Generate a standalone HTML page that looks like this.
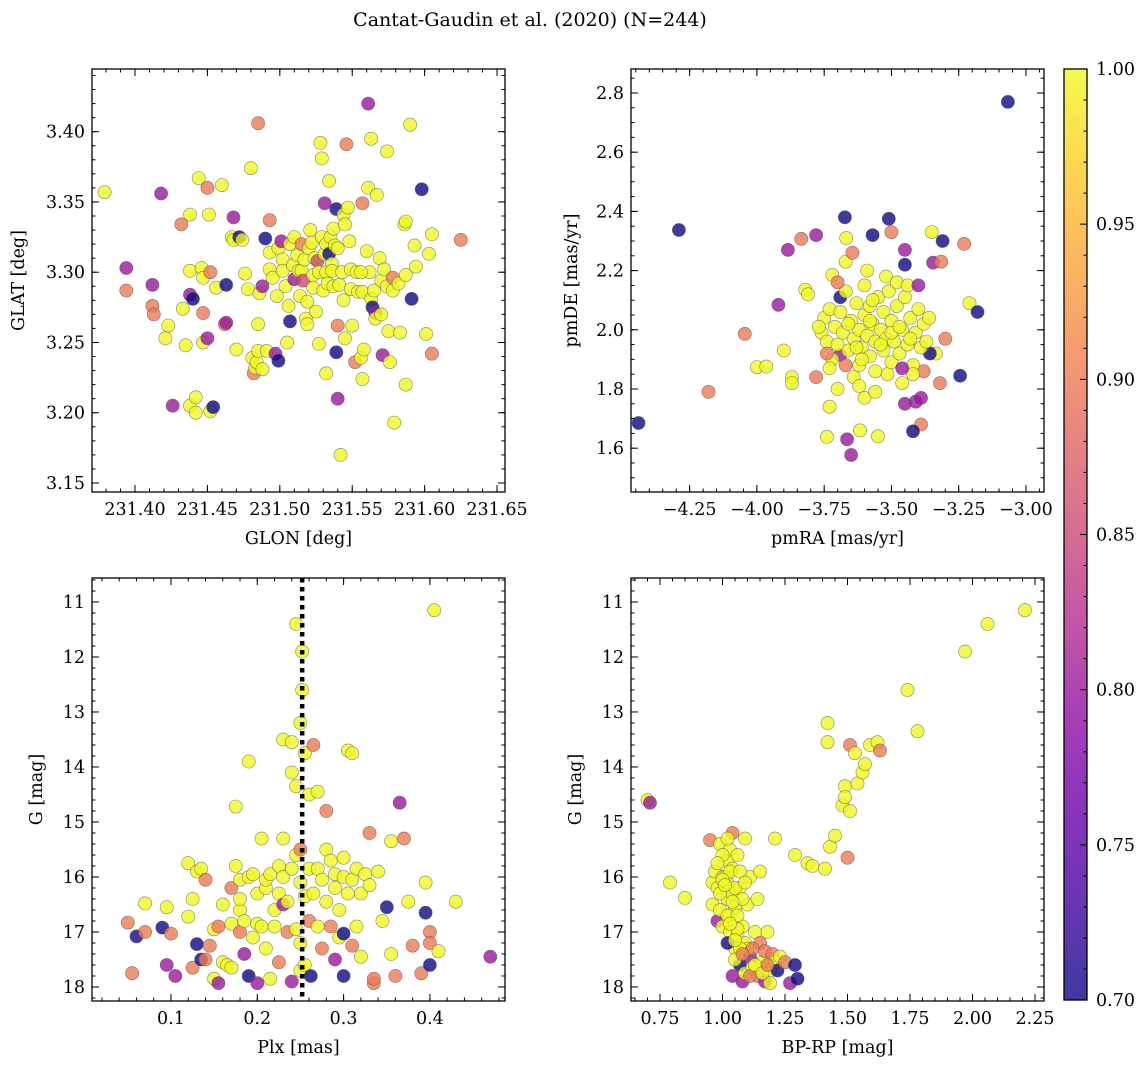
<!DOCTYPE html>
<html><head><meta charset="utf-8"><title>Cantat-Gaudin et al. (2020)</title>
<style>
html,body{margin:0;padding:0;background:#fff;}
svg{display:block;font-family:"DejaVu Serif","Liberation Serif",serif;}
</style></head>
<body>
<svg id="fig" width="1148" height="1068" viewBox="0 0 1148 1068" xmlns="http://www.w3.org/2000/svg">
<defs>
<linearGradient id="cbgrad" x1="0" y1="1" x2="0" y2="0">
<stop offset="0" stop-color="#0d0887" stop-opacity="0.8"/>
<stop offset="0.1" stop-color="#41049d" stop-opacity="0.8"/>
<stop offset="0.2" stop-color="#6a00a8" stop-opacity="0.8"/>
<stop offset="0.3" stop-color="#8f0da4" stop-opacity="0.8"/>
<stop offset="0.4" stop-color="#b12a90" stop-opacity="0.8"/>
<stop offset="0.5" stop-color="#cc4778" stop-opacity="0.8"/>
<stop offset="0.6" stop-color="#e16462" stop-opacity="0.8"/>
<stop offset="0.7" stop-color="#f2844b" stop-opacity="0.8"/>
<stop offset="0.8" stop-color="#fca636" stop-opacity="0.8"/>
<stop offset="0.9" stop-color="#fcce25" stop-opacity="0.8"/>
<stop offset="1" stop-color="#f0f921" stop-opacity="0.8"/>
</linearGradient>
</defs>
<text x="530" y="26" font-size="19" text-anchor="middle">Cantat-Gaudin et al. (2020) (N=244)</text>
</svg>
<script>
// ---------- Panel 1: GLON vs GLAT ----------
const glonVals=[231.379,231.394,231.394,231.418,231.412,231.412,231.413,231.421,231.423,231.426,231.432,231.433,231.435,231.438,231.438,231.438,231.440,231.438,231.442,231.442,231.444,231.446,231.447,231.447,231.447,231.450,231.451,231.452,231.450,231.452,231.454,231.456,231.460,231.462,231.463,231.463,231.467,231.468,231.470,231.468,231.472,231.474,231.476,231.478,231.480,231.481,231.482,231.483,231.484,231.485,231.485,231.485,231.486,231.488,231.488,231.490,231.491,231.493,231.493,231.493,231.495,231.497,231.498,231.499,231.499,231.501,231.502,231.502,231.504,231.505,231.506,231.507,231.507,231.509,231.510,231.510,231.512,231.513,231.514,231.515,231.515,231.516,231.517,231.518,231.519,231.519,231.520,231.521,231.522,231.523,231.523,231.524,231.525,231.526,231.527,231.527,231.528,231.529,231.529,231.530,231.531,231.531,231.532,231.532,231.532,231.533,231.534,231.534,231.535,231.536,231.536,231.537,231.537,231.538,231.539,231.539,231.540,231.540,231.540,231.541,231.542,231.543,231.544,231.544,231.545,231.545,231.546,231.547,231.548,231.549,231.549,231.550,231.552,231.553,231.554,231.556,231.557,231.557,231.557,231.558,231.560,231.561,231.561,231.562,231.563,231.563,231.564,231.565,231.566,231.566,231.567,231.569,231.570,231.570,231.571,231.572,231.574,231.574,231.575,231.576,231.578,231.578,231.579,231.582,231.583,231.586,231.587,231.587,231.590,231.591,231.593,231.594,231.598,231.601,231.603,231.605,231.605,231.625,231.587,231.556];
const glatVals=[3.357,3.303,3.287,3.356,3.291,3.276,3.270,3.253,3.262,3.205,3.334,3.274,3.248,3.341,3.301,3.284,3.281,3.205,3.211,3.200,3.367,3.303,3.296,3.250,3.271,3.253,3.341,3.300,3.360,3.201,3.204,3.289,3.362,3.263,3.264,3.291,3.325,3.339,3.245,3.323,3.325,3.323,3.299,3.288,3.374,3.239,3.228,3.232,3.236,3.244,3.406,3.263,3.285,3.290,3.231,3.324,3.244,3.337,3.314,3.302,3.296,3.242,3.283,3.317,3.237,3.322,3.309,3.301,3.290,3.250,3.276,3.265,3.320,3.305,3.295,3.325,3.312,3.301,3.283,3.320,3.301,3.294,3.309,3.267,3.279,3.263,3.317,3.330,3.321,3.298,3.289,3.310,3.272,3.308,3.300,3.249,3.392,3.381,3.325,3.287,3.313,3.349,3.300,3.320,3.228,3.292,3.313,3.365,3.325,3.306,3.301,3.290,3.331,3.319,3.345,3.243,3.262,3.210,3.317,3.291,3.170,3.300,3.280,3.341,3.334,3.253,3.391,3.346,3.322,3.302,3.288,3.262,3.236,3.300,3.286,3.239,3.224,3.286,3.349,3.245,3.315,3.360,3.420,3.300,3.395,3.281,3.275,3.287,3.271,3.267,3.355,3.310,3.294,3.270,3.241,3.302,3.386,3.290,3.258,3.236,3.287,3.296,3.193,3.292,3.257,3.334,3.298,3.220,3.405,3.281,3.319,3.304,3.359,3.256,3.313,3.327,3.242,3.323,3.336,3.300];
const prob1=[1,.8,.9,.8,.8,.9,.9,1,1,.8,.9,1,1,1,1,.8,.7,1,1,1,1,1,1,1,.9,.8,1,.9,.9,1,.7,1,1,.9,.8,.7,1,.8,1,1,.7,1,1,1,1,1,.9,1,1,1,.9,1,1,.8,1,.7,1,.9,1,1,1,.8,1,1,.7,.8,1,1,1,1,1,.7,1,1,.8,1,1,1,1,.9,1,.85,1,1,1,1,1,1,1,1,1,1,1,.85,1,1,1,1,1,1,1,.8,1,1,1,1,.7,1,1,1,1,1,1,1,.7,.7,.9,.8,1,1,1,1,1,1,1,1,.9,1,1,1,1,1,.9,1,1,1,1,1,.9,1,1,1,.8,1,1,1,.7,1,.8,1,1,1,1,1,.8,1,1,1,1,1,1,.9,1,1,1,1,1,1,1,.7,1,1,.7,1,1,1,.9,.9,1,1];

// ---------- Panel 2: pmRA vs pmDE ----------
const pmraVals=[-4.44,-4.29,-4.18,-4.045,-4.00,-3.965,-3.92,-3.885,-3.87,-3.87,-3.90,-3.835,-3.82,-3.81,-3.78,-3.78,-3.74,-3.73,-3.72,-3.69,-3.673,-3.665,-3.65,-3.67,-3.645,-3.668,-3.51,-3.50,-3.57,-3.45,-3.45,-3.35,-3.31,-3.345,-3.315,-3.23,-3.21,-3.18,-3.245,-3.067,-3.30,-3.335,-3.32,-3.38,-3.41,-3.39,-3.42,-3.357,-3.45,-3.55,-3.617,-3.60,-3.515,-3.69,-3.67,
-3.76,-3.75,-3.74,-3.73,-3.72,-3.71,-3.70,-3.69,-3.68,-3.67,-3.66,-3.65,-3.64,-3.63,-3.62,-3.62,-3.61,-3.60,-3.60,-3.59,-3.58,-3.58,-3.57,-3.56,-3.56,-3.55,-3.54,-3.53,-3.53,-3.52,-3.51,-3.50,-3.50,-3.49,-3.48,-3.47,-3.46,-3.45,-3.44,-3.43,-3.42,-3.41,-3.40,-3.39,-3.38,-3.37,-3.36,
-3.64,-3.70,-3.73,-3.77,-3.59,-3.52,-3.48,-3.44,-3.62,-3.56,-3.46,-3.42,
-3.39,-3.46,-3.40,-3.70,-3.74,
-3.66,-3.61,-3.57,-3.54,-3.50,-3.47,-3.43,-3.63,-3.58];
const pmdeVals=[1.685,2.337,1.79,1.986,1.874,1.876,2.084,2.27,1.84,1.82,1.93,2.307,2.135,2.12,2.32,1.84,1.638,1.74,2.185,2.11,2.38,1.63,1.577,2.23,2.26,2.31,2.375,2.33,2.32,2.27,2.22,2.33,2.30,2.227,2.23,2.29,2.09,2.06,1.845,2.77,1.97,1.92,1.82,1.86,1.757,1.68,1.657,1.92,1.75,1.64,1.66,1.77,1.85,1.915,1.88,
1.99,2.04,1.96,2.07,1.90,2.01,1.95,2.06,1.99,2.13,1.93,2.03,1.97,2.09,1.88,2.00,1.94,2.05,2.15,1.98,1.91,2.08,2.02,1.86,1.96,2.11,2.00,1.93,2.06,1.97,2.13,1.89,2.03,1.96,2.08,1.92,2.00,2.11,1.95,2.04,1.88,1.99,2.07,1.94,2.02,1.96,2.04,
1.84,1.80,1.87,2.01,2.20,2.18,2.16,2.15,1.81,1.79,1.82,1.85,
1.77,1.87,2.15,2.16,1.92,
2.02,1.90,2.10,1.95,1.99,2.01,1.97,1.94,2.03];
const prob2=[.7,.7,.9,.9,1,1,.8,.8,1,1,1,.9,1,1,.8,.9,1,1,1,.7,.7,.8,.8,1,.9,1,.7,.9,.7,.8,.7,1,.7,.8,.9,.9,1,.7,.7,.7,.9,1,.9,.9,.8,.9,.7,.7,.8,1,1,1,1,.8,.9,
1,1,1,1,1,1,1,1,1,1,1,1,1,1,1,1,1,1,1,1,1,1,1,1,1,1,1,1,1,1,1,1,1,1,1,1,1,1,1,1,1,1,1,1,1,1,1,
1,1,1,1,1,1,1,1,1,1,1,1,
.8,.8,.8,.9,.9,
1,1,1,1,1,1,1,1,1];

// ---------- Panel 3: Plx vs G ----------
const plxVals=[0.05,0.055,0.06,0.07,0.07,0.09,0.095,0.095,0.10,0.105,0.12,0.12,0.125,0.125,0.13,0.13,0.135,0.135,0.14,0.14,0.145,0.15,0.15,0.155,0.155,0.16,0.16,0.165,0.17,0.17,0.17,0.175,0.175,0.18,0.18,0.18,0.18,0.185,0.185,0.19,0.19,0.19,0.195,0.195,0.2,0.2,0.2,0.205,0.205,0.21,0.21,0.21,0.215,0.215,0.22,0.22,0.225,0.225,0.225,0.23,0.23,0.23,0.23,0.235,0.235,0.24,0.24,0.24,0.24,0.245,0.245,0.245,0.245,0.25,0.25,0.25,0.25,0.25,0.252,0.252,0.255,0.255,0.255,0.26,0.26,0.26,0.262,0.265,0.265,0.27,0.27,0.27,0.275,0.275,0.28,0.28,0.28,0.285,0.285,0.29,0.29,0.29,0.295,0.295,0.3,0.3,0.3,0.3,0.305,0.305,0.31,0.31,0.31,0.315,0.315,0.32,0.32,0.325,0.33,0.33,0.335,0.335,0.34,0.345,0.35,0.355,0.355,0.36,0.365,0.37,0.375,0.38,0.39,0.395,0.395,0.4,0.4,0.4,0.405,0.41,0.43,0.47];
const gVals3=[16.83,17.75,17.08,17.0,16.48,16.92,16.55,17.6,17.03,17.8,16.72,15.75,16.4,17.65,17.22,15.9,17.5,15.85,16.05,17.5,17.25,17.85,16.95,16.9,17.93,16.5,17.55,17.6,16.2,16.85,17.65,15.8,14.72,16.6,16.4,16.05,17.0,16.8,17.4,16.0,17.8,13.9,17.1,15.95,16.3,17.93,16.85,15.3,16.9,17.3,16.2,16.05,17.85,15.95,16.6,16.9,15.8,16.3,17.55,13.5,15.3,16.0,16.5,17.0,16.45,13.55,14.1,15.85,17.9,11.4,14.35,15.6,16.95,15.5,13.2,16.1,17.2,17.7,11.9,12.6,13.75,16.35,17.6,14.5,15.85,16.8,17.8,13.6,16.3,14.45,15.85,16.9,16.05,17.3,14.8,15.5,16.45,16.9,15.7,16.2,17.5,15.95,17.1,16.6,15.65,16.0,17.8,17.03,13.7,16.3,13.75,16.05,17.25,15.85,16.9,17.45,16.3,15.95,15.2,16.15,17.93,17.85,15.9,16.8,16.55,15.35,17.4,17.8,14.65,15.3,16.45,17.25,17.75,16.1,16.65,17.0,17.2,17.6,11.15,17.35,16.45,17.45];
const prob3=[.9,.9,.7,.9,1,.7,1,.8,.9,.8,1,1,1,.9,.7,1,.7,1,.9,.9,.9,1,1,.9,.8,1,1,1,.9,1,1,1,1,1,1,1,.9,1,.8,1,.7,1,1,1,1,.8,1,1,1,1,1,1,1,1,1,1,1,1,.9,1,1,1,.8,.9,1,1,1,1,.8,1,1,1,1,.9,1,1,1,1,1,1,1,1,1,1,1,.9,.7,.9,1,1,1,1,1,.9,.9,1,1,.9,1,1,.8,1,1,1,1,1,.7,.7,1,1,1,1,.9,1,1,1,1,1,.9,1,.9,.9,1,1,.7,1,1,.9,.8,.9,1,.9,.9,1,.7,.9,.9,.7,1,1,1,.8];

// ---------- Panel 4: BP-RP vs G ----------
const bprpVals=[0.70,0.71,0.79,0.85,0.95,0.96,0.96,0.97,0.98,0.98,0.99,0.99,1.00,1.00,1.02,1.02,1.02,1.03,1.03,1.03,1.04,1.04,1.04,1.04,1.05,1.05,1.06,1.06,1.07,1.07,1.08,1.08,1.09,1.09,1.09,1.10,1.11,1.11,1.12,1.13,1.14,1.14,1.15,1.15,1.16,1.17,1.17,1.18,1.19,1.19,1.20,1.21,1.21,1.22,1.23,1.25,1.27,1.29,1.30,1.29,1.34,1.36,1.41,1.42,1.42,1.43,1.45,1.48,1.49,1.49,1.50,1.51,1.51,1.53,1.54,1.56,1.57,1.59,1.62,1.63,1.74,1.78,1.97,2.06,2.21,
0.99,1.01,1.02,1.03,1.05,1.06,1.07,1.08,1.00,1.02,1.10,1.11,1.13,1.05,1.07,1.12,1.16,1.18,1.02,1.08,0.98,1.00,1.04,1.06,1.01,1.03,1.09,1.05];
const gVals4=[14.6,14.65,16.1,16.38,15.33,16.1,16.5,15.9,16.8,16.2,15.4,16.6,16.0,16.9,15.7,16.4,16.1,15.5,16.7,17.0,15.2,15.85,16.3,17.8,17.3,16.55,15.6,17.05,16.2,17.6,17.9,16.9,15.3,17.2,17.75,16.5,17.45,16.0,17.65,17.0,17.8,16.4,17.2,15.9,17.55,17.9,17.35,17.0,17.7,17.93,17.4,17.55,15.3,17.7,17.45,17.55,17.93,17.6,17.85,15.6,15.75,15.8,15.85,13.2,13.55,15.45,15.25,14.7,14.35,14.55,15.65,13.6,14.8,13.75,14.3,14.1,13.95,13.6,13.55,13.7,12.6,13.35,11.9,11.4,11.15,
16.3,16.0,16.7,15.9,16.2,16.7,15.9,16.4,15.6,15.3,17.3,17.8,17.6,17.5,17.3,17.3,17.75,17.6,17.2,17.4,15.75,16.05,16.45,16.95,16.15,16.85,16.1,17.15];
const prob4=[1,.8,1,1,.9,1,1,1,.8,1,1,1,1,1,1,1,1,1,1,1,.9,1,1,.8,1,1,1,1,1,.7,.8,1,1,1,1,1,.8,1,1,1,.9,1,.9,1,1,.8,.9,1,1,1,.9,1,1,.7,1,.9,.8,.7,.7,1,1,1,1,1,1,1,1,1,1,1,.9,.9,1,1,1,1,1,1,1,.9,1,1,1,1,1,
1,1,1,1,1,1,1,1,1,1,1,.9,1,1,1,.9,1,.9,.7,.9,1,1,1,1,1,1,1,1];

// ---------- Colorbar ticks ----------
const cbTicks=[0.70,0.75,0.80,0.85,0.90,0.95,1.00];

const NS='http://www.w3.org/2000/svg';
const svg=document.getElementById('fig');
function mk(tag,attrs,parent){const e=document.createElementNS(NS,tag);for(const k in attrs)e.setAttribute(k,attrs[k]);(parent||svg).appendChild(e);return e;}

const plasma=[[13,8,135],[65,4,157],[106,0,168],[143,13,164],[177,42,144],[204,71,120],[225,100,98],[242,132,75],[252,166,54],[252,206,37],[240,249,33]];
function cmap(p){if(typeof p!=='number'||isNaN(p))p=1;let t=(p-0.7)/0.3;t=Math.max(0,Math.min(1,t));const f=t*10;const i=Math.min(9,Math.floor(f));const r=f-i;const a=plasma[i],b=plasma[i+1];
return 'rgb('+[0,1,2].map(k=>Math.round(a[k]+(b[k]-a[k])*r)).join(',')+')';}

function fmt(v,d){const s=Math.abs(v).toFixed(d);return (v<0?'\u2212':'')+s;}

function panel(cfg){
  const g=mk('g',{});
  
  
  const L=cfg.box[0],T=cfg.box[1],R=cfg.box[2],B=cfg.box[3];
  const sx=v=>L+(v-cfg.xd[0])/(cfg.xd[1]-cfg.xd[0])*(R-L);
  const sy=v=>T+(v-cfg.yd[0])/(cfg.yd[1]-cfg.yd[0])*(B-T);
  const clip='clip-'+cfg.name;
  const cp=mk('clipPath',{id:clip},g);mk('rect',{x:L,y:T,width:R-L,height:B-T},cp);
  const pts=mk('g',{'clip-path':'url(#'+clip+')'},g);
  
  
  const n=Math.min(cfg.xs.length,cfg.ys.length);
  for(let i=0;i<n;i++){
    const c=mk('circle',{cx:sx(cfg.xs[i]).toFixed(1),cy:sy(cfg.ys[i]).toFixed(1),r:6.6,fill:cmap(cfg.ps[i]),'fill-opacity':0.8,stroke:'#555','stroke-width':0.6,'stroke-opacity':0.7},pts);
    
    
  }
  if(cfg.vline!==undefined){
    const ln=mk('line',{x1:sx(cfg.vline),x2:sx(cfg.vline),y1:T,y2:B,stroke:'#000','stroke-width':4.5,'stroke-dasharray':'4.5,4.5'},g);
    
    
  }
  const ax=mk('g',{stroke:'#000','stroke-width':1},g);
  const lo=Math.min(cfg.xd[0],cfg.xd[1]),hi=Math.max(cfg.xd[0],cfg.xd[1]);
  for(let k=Math.ceil(lo/cfg.xmin-1e-6);k*cfg.xmin<=hi+1e-9;k++){const x=sx(k*cfg.xmin);mk('line',{x1:x,x2:x,y1:B,y2:B-3.5},ax);mk('line',{x1:x,x2:x,y1:T,y2:T+3.5},ax);}
  const ylo=Math.min(cfg.yd[0],cfg.yd[1]),yhi=Math.max(cfg.yd[0],cfg.yd[1]);
  for(let k=Math.ceil(ylo/cfg.ymin-1e-6);k*cfg.ymin<=yhi+1e-9;k++){const y=sy(k*cfg.ymin);mk('line',{x1:L,x2:L+3.5,y1:y,y2:y},ax);mk('line',{x1:R,x2:R-3.5,y1:y,y2:y},ax);}
  for(const v of cfg.xt){const x=sx(v);mk('line',{x1:x,x2:x,y1:B,y2:B-7},ax);mk('line',{x1:x,x2:x,y1:T,y2:T+7},ax);
    const t=mk('text',{x:x,y:B+23,'font-size':17.5,'text-anchor':'middle'},g);t.textContent=fmt(v,cfg.xdec);
    
    }
  for(const v of cfg.yt){const y=sy(v);mk('line',{x1:L,x2:L+7,y1:y,y2:y},ax);mk('line',{x1:R,x2:R-7,y1:y,y2:y},ax);
    const t=mk('text',{x:L-7,y:y+6,'font-size':17.5,'text-anchor':'end'},g);t.textContent=fmt(v,cfg.ydec);
    
    }
  mk('rect',{x:L,y:T,width:R-L,height:B-T,fill:'none',stroke:'#000','stroke-width':1.3},g);
  const xl=mk('text',{x:(L+R)/2,y:B+52,'font-size':17.5,'text-anchor':'middle'},g);xl.textContent=cfg.xlabel;
  
  
  const yl=mk('text',{x:cfg.ylx,y:(T+B)/2,'font-size':17.5,'text-anchor':'middle',transform:'rotate(-90 '+cfg.ylx+' '+((T+B)/2)+')'},g);yl.textContent=cfg.ylabel;
  
  
}

panel({name:'glon-glat-panel',box:[92,69,505,492],xd:[231.3703,231.6555],yd:[3.4446,3.1436],xs:glonVals,ys:glatVals,ps:prob1,
  xt:[231.40,231.45,231.50,231.55,231.60,231.65],yt:[3.15,3.20,3.25,3.30,3.35,3.40],xmin:0.01,ymin:0.01,xdec:2,ydec:2,xlabel:'GLON [deg]',ylabel:'GLAT [deg]',ylx:24});
panel({name:'proper-motion-panel',box:[631,69,1044,492],xd:[-4.468,-2.933],yd:[2.881,1.452],xs:pmraVals,ys:pmdeVals,ps:prob2,
  xt:[-4.25,-4.00,-3.75,-3.50,-3.25,-3.00],yt:[1.6,1.8,2.0,2.2,2.4,2.6,2.8],xmin:0.05,ymin:0.05,xdec:2,ydec:1,xlabel:'pmRA [mas/yr]',ylabel:'pmDE [mas/yr]',ylx:577});
panel({name:'parallax-panel',box:[92,578,505,1001],xd:[0.0085,0.487],yd:[10.564,18.255],xs:plxVals,ys:gVals3,ps:prob3,vline:0.252,
  xt:[0.1,0.2,0.3,0.4],yt:[11,12,13,14,15,16,17,18],xmin:0.02,ymin:0.2,xdec:1,ydec:0,xlabel:'Plx [mas]',ylabel:'G [mag]',ylx:42});
panel({name:'cmd-panel',box:[631,578,1044,1001],xd:[0.634,2.286],yd:[10.564,18.255],xs:bprpVals,ys:gVals4,ps:prob4,
  xt:[0.75,1.00,1.25,1.50,1.75,2.00,2.25],yt:[11,12,13,14,15,16,17,18],xmin:0.05,ymin:0.2,xdec:2,ydec:0,xlabel:'BP-RP [mag]',ylabel:'G [mag]',ylx:581});

// colorbar
const cb=mk('g',{});


const cT=69,cB=1000,cL=1064,cR=1087;
const cy=v=>cB-(v-0.70)/0.30*(cB-cT);
mk('rect',{x:cL,y:cT,width:cR-cL,height:cB-cT,fill:'url(#cbgrad)'},cb);
for(let k=70;k<=100;k++){const y=cy(k/100);mk('line',{x1:cR,x2:cR-(k%5===0?7:3.5),y1:y,y2:y,stroke:'#000','stroke-width':1},cb);}
for(const v of cbTicks){const t=mk('text',{x:cR+9,y:cy(v)+6,'font-size':17.5},cb);t.textContent=v.toFixed(2);
  
  }
mk('rect',{x:cL,y:cT,width:cR-cL,height:cB-cT,fill:'none',stroke:'#000','stroke-width':1.3},cb);
</script>
</body></html>
